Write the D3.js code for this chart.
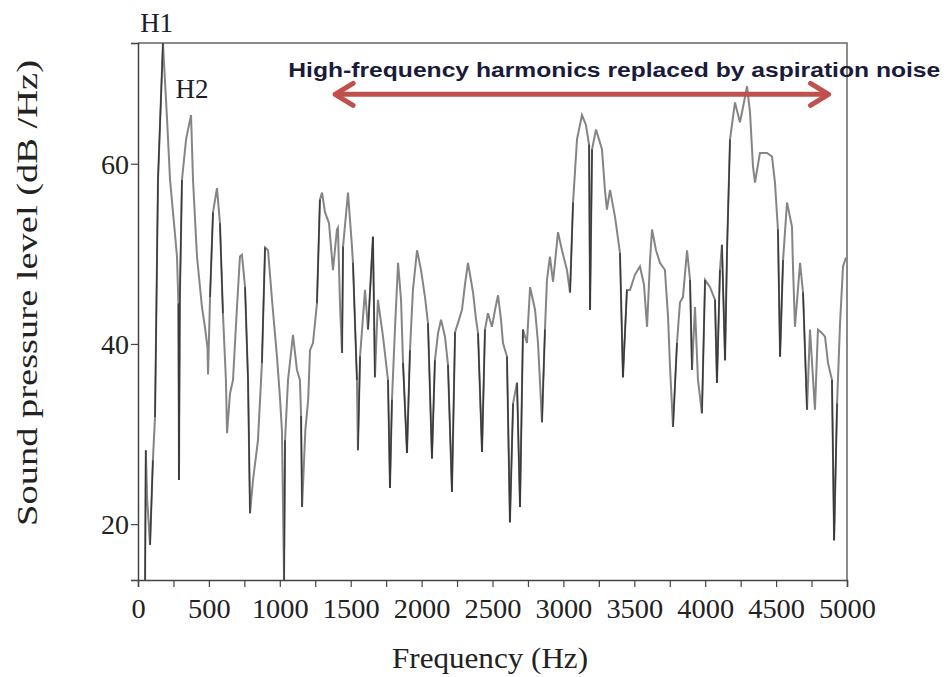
<!DOCTYPE html>
<html>
<head>
<meta charset="utf-8">
<script src="https://cdn.jsdelivr.net/npm/d3@7"></script>
<style>
  body { margin: 0; background: #fff; }
  svg { display: block; }
</style>
</head>
<body>
<div id="chart_div"></div>
<script>
// spectrum: frequency (Hz) / level (dB/Hz)
var freqs = [50, 55, 65, 85, 105, 120, 141, 176, 205, 226, 247, 275, 285, 289, 295, 310, 339, 374, 388, 416,
  451, 472, 490, 494, 508, 529, 557, 578, 599, 620, 628, 649, 670, 698, 719, 733, 755, 776, 790, 811,
  846, 874, 896, 917, 945, 980, 1001, 1015, 1023, 1030, 1037, 1058, 1093, 1121, 1142, 1150, 1157, 1180, 1200, 1213,
  1234, 1262, 1283, 1298, 1319, 1347, 1375, 1403, 1410, 1425, 1439, 1446, 1481, 1509, 1516, 1544, 1551, 1566, 1601, 1622,
  1657, 1671, 1692, 1728, 1763, 1777, 1791, 1812, 1834, 1855, 1869, 1897, 1918, 1939, 1968, 1996, 2024, 2045, 2073, 2094,
  2116, 2137, 2165, 2186, 2214, 2236, 2264, 2285, 2306, 2327, 2348, 2363, 2384, 2398, 2426, 2447, 2468, 2496, 2518, 2539,
  2560, 2574, 2602, 2623, 2645, 2673, 2694, 2715, 2743, 2765, 2800, 2821, 2849, 2870, 2884, 2905, 2927, 2962, 2990, 3025,
  3047, 3068, 3096, 3131, 3159, 3181, 3188, 3202, 3230, 3251, 3272, 3293, 3307, 3329, 3364, 3399, 3420, 3448, 3470, 3505,
  3540, 3568, 3590, 3611, 3625, 3653, 3681, 3716, 3738, 3752, 3773, 3801, 3822, 3843, 3872, 3893, 3907, 3928, 3949, 3977,
  3999, 4034, 4069, 4083, 4104, 4118, 4140, 4154, 4175, 4210, 4245, 4267, 4295, 4316, 4337, 4351, 4386, 4436, 4471, 4492,
  4513, 4528, 4549, 4577, 4612, 4619, 4633, 4669, 4690, 4718, 4739, 4774, 4795, 4824, 4845, 4866, 4894, 4909, 4930, 4951,
  4972, 4993]
var levels = [13.8, 28.2, 22.7, 17.7, 27.1, 31.9, 58.2, 73.4, 64.9, 58.2, 54.6, 49.7, 44.5, 24.9, 44.9, 58.2, 62.7, 65.4, 58.2, 49.7,
  44.1, 41.9, 39.6, 36.6, 45.2, 54.6, 57.3, 53.4, 43.4, 36.0, 30.1, 34.5, 36.0, 44.1, 49.7, 49.9, 46.3, 36.0, 21.2, 24.9,
  29.3, 37.9, 50.7, 50.4, 44.9, 38.6, 34.1, 30.4, 21.6, 13.8, 29.3, 36.0, 41.0, 37.1, 36.0, 32.0, 21.9, 30.4, 33.8, 39.3,
  40.1, 44.5, 56.0, 56.8, 54.6, 53.4, 48.2, 52.7, 52.9, 44.1, 39.0, 50.8, 56.8, 50.8, 49.0, 36.0, 28.2, 38.6, 46.0, 41.6,
  51.9, 36.3, 44.9, 40.8, 36.0, 24.0, 33.8, 41.6, 49.0, 44.9, 37.9, 27.9, 39.3, 46.0, 50.4, 48.2, 45.2, 42.3, 27.3, 38.2,
  41.2, 42.7, 40.8, 37.7, 23.6, 41.3, 42.7, 43.8, 46.6, 49.0, 47.1, 45.7, 42.7, 41.2, 28.0, 41.6, 43.4, 41.9, 43.8, 45.4,
  42.7, 40.1, 38.6, 20.2, 33.4, 35.7, 21.9, 41.6, 40.1, 46.3, 43.8, 40.1, 31.3, 41.6, 47.1, 49.7, 46.9, 52.4, 50.4, 48.2,
  45.7, 55.7, 62.7, 65.4, 64.3, 62.1, 43.8, 61.6, 63.8, 62.7, 61.6, 57.1, 54.9, 57.1, 54.1, 50.1, 36.3, 46.0, 46.0, 47.7,
  48.6, 46.6, 41.9, 49.3, 52.7, 50.4, 49.0, 48.2, 43.0, 37.4, 30.8, 40.1, 44.6, 45.2, 50.4, 47.1, 37.1, 44.1, 36.0, 32.3,
  47.1, 46.3, 44.9, 35.7, 48.2, 51.0, 38.2, 50.4, 62.7, 66.8, 64.6, 66.3, 68.6, 65.7, 59.7, 57.9, 61.2, 61.2, 60.8, 57.9,
  52.7, 38.6, 49.3, 55.7, 53.0, 48.6, 41.9, 49.0, 45.7, 32.7, 41.6, 32.7, 41.6, 41.2, 40.8, 37.9, 36.0, 18.2, 33.4, 42.3,
  48.6, 49.6]

var xTicks = [0, 500, 1000, 1500, 2000, 2500, 3000, 3500, 4000, 4500, 5000]
var xMinorTicks = d3.range(0, 5001, 250)
var yTicks = [20, 40, 60]

// harmonic labels and the annotation arrow (Hz, dB)
var harmonicLabels = [{name: 'H1', f: 15, v: 74.6}, {name: 'H2', f: 265, v: 67.3}]
var arrowFrom = [1390, 67.7], arrowTo = [4870, 67.7]
var noteText = 'High-frequency  harmonics replaced by aspiration noise'

function draw_spectrum(){
  var W = 946, H = 677
  var margin = {top: 43, right: 99, bottom: 97, left: 138},
      width = W - margin.left - margin.right,
      height = H - margin.top - margin.bottom;

  var xScale = d3.scaleLinear().domain([0, 5000]).range([0, width]);
  var yScale = d3.scaleLinear().domain([13.8, 73.4]).range([height, 0]);

  var svg = d3.select('#chart_div').append('svg')
    .attr('width', W).attr('height', H)
    .append('g')
    .attr('transform', 'translate(' + margin.left + ',' + margin.top + ')');

  var data = freqs.map(function(f, i){ return {f: f, v: levels[i]}; });

  // frame (top / right)
  svg.append('path')
    .attr('d', 'M0,0H' + width + 'V' + height)
    .attr('fill', 'none')
    .style('stroke', '#666')
    .style('stroke-width', '1.5px');

  var valueline = d3.line()
    .x(function(d){ return xScale(d.f); })
    .y(function(d){ return yScale(d.v); });

  svg.append('path')
    .datum(data)
    .attr('d', valueline)
    .attr('fill', 'none')
    .style('stroke', '#858585')
    .style('stroke-width', '2px')
    .style('stroke-linejoin', 'miter');

  // darker strokes on the deep notches
  var steep = [];
  for (var i = 1; i < data.length; i++) {
    if (Math.abs(data[i].v - data[i-1].v) > 9) steep.push([data[i-1], data[i]]);
  }
  svg.selectAll('path.notch')
    .data(steep)
    .enter().append('path')
    .attr('class', 'notch')
    .attr('d', valueline)
    .attr('fill', 'none')
    .style('stroke', '#3a3a3a')
    .style('stroke-width', '1.5px');

  // x axis
  svg.append('g')
    .attr('class', 'xaxis')
    .attr('transform', 'translate(0,' + height + ')')
    .call(d3.axisBottom(xScale).tickValues(xMinorTicks).tickSize(7).tickFormat(''));
  svg.append('g')
    .attr('class', 'xaxis labels')
    .attr('transform', 'translate(0,' + height + ')')
    .call(d3.axisBottom(xScale).tickValues(xTicks).tickSize(0).tickPadding(18).tickFormat(d3.format('d')));

  // y axis
  svg.append('g')
    .attr('class', 'yaxis')
    .call(d3.axisLeft(yScale).tickValues(yTicks).tickSize(7).tickPadding(2));

  svg.selectAll('.xaxis path.domain, .yaxis path.domain')
    .style('stroke', '#444').style('stroke-width', '1.5px');
  svg.selectAll('.xaxis.labels path.domain').remove();
  svg.selectAll('.tick line').style('stroke', '#444').style('stroke-width', '1.2px');
  svg.selectAll('.xaxis text, .yaxis text')
    .style('font-family', '"Liberation Serif", "Times New Roman", serif')
    .style('font-size', '28px')
    .style('fill', '#222');
  svg.selectAll('.xaxis text').attr('dy', '0.71em').attr('textLength', function(d){ return String(d).length * 14.2; })
    .attr('lengthAdjust', 'spacingAndGlyphs');
  svg.selectAll('.yaxis text').attr('dy', '0.34em');

  svg.append('text')
    .attr('text-anchor', 'middle')
    .attr('x', 352)
    .attr('y', height + 88)
    .attr('textLength', 196)
    .attr('lengthAdjust', 'spacingAndGlyphs')
    .style('font-family', '"Liberation Serif", "Times New Roman", serif')
    .style('font-size', '29px')
    .style('fill', '#222')
    .text('Frequency (Hz)');

  svg.append('text')
    .attr('text-anchor', 'middle')
    .attr('transform', 'translate(-101,250) rotate(-90)')
    .attr('textLength', 466)
    .attr('lengthAdjust', 'spacingAndGlyphs')
    .style('font-family', '"Liberation Serif", "Times New Roman", serif')
    .style('font-size', '29px')
    .style('fill', '#222')
    .text('Sound pressure level (dB /Hz)');

  // harmonic labels
  svg.selectAll('text.harm')
    .data(harmonicLabels)
    .enter().append('text')
    .attr('class', 'harm')
    .attr('x', function(d){ return xScale(d.f); })
    .attr('y', function(d){ return yScale(d.v); })
    .style('font-family', '"Liberation Serif", "Times New Roman", serif')
    .style('font-size', '27px')
    .style('fill', '#1c1c2c')
    .text(function(d){ return d.name; });

  // annotation
  var ax0 = xScale(arrowFrom[0]), ax1 = xScale(arrowTo[0]), ay = yScale(arrowFrom[1]);
  var red = '#c0504d';
  svg.append('line')
    .attr('x1', ax0 + 2).attr('x2', ax1 - 2)
    .attr('y1', ay).attr('y2', ay)
    .style('stroke', red).style('stroke-width', '5px');
  svg.append('path')
    .attr('d', 'M' + (ax0 + 18) + ',' + (ay - 11) + 'L' + ax0 + ',' + ay + 'L' + (ax0 + 18) + ',' + (ay + 11))
    .attr('fill', 'none').style('stroke', red).style('stroke-width', '5px')
    .style('stroke-linecap', 'round').style('stroke-linejoin', 'round');
  svg.append('path')
    .attr('d', 'M' + (ax1 - 18) + ',' + (ay - 11) + 'L' + ax1 + ',' + ay + 'L' + (ax1 - 18) + ',' + (ay + 11))
    .attr('fill', 'none').style('stroke', red).style('stroke-width', '5px')
    .style('stroke-linecap', 'round').style('stroke-linejoin', 'round');

  svg.append('text')
    .attr('x', xScale(1060))
    .attr('y', ay - 17)
    .attr('textLength', 652)
    .attr('lengthAdjust', 'spacingAndGlyphs')
    .style('font-family', '"Liberation Sans", Arial, sans-serif')
    .style('font-weight', 'bold')
    .style('font-size', '20px')
    .style('fill', '#1a1a3a')
    .text(noteText);
}

draw_spectrum()
</script>
</body>
</html>
